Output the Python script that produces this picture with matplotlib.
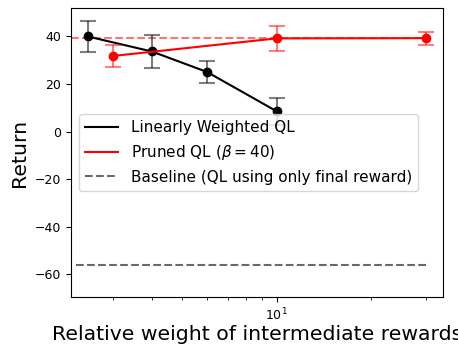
import matplotlib
matplotlib.use("Agg")
import matplotlib.pyplot as plt

# linearly weighted QL
lin_w = [2.5, 4, 6, 10]
lin_ret = [40.0, 33.7, 25.1, 8.6]
lin_err = [6.6, 6.9, 4.7, 5.6]

# pruned QL, beta = 40
pr_w = [3, 10, 30]
pr_ret = [31.8, 39.2, 39.3]
pr_err = [4.6, 5.3, 2.7]

pruned_ref = 39.5
baseline = -56.0

fig = plt.figure(figsize=(4.58, 3.45), dpi=100)
ax = fig.add_axes([0.155, 0.139, 0.812, 0.838])

ax.axhline(pruned_ref, xmax=0.957, color="red", ls="--", alpha=0.55, lw=1.5)

ax.errorbar(lin_w, lin_ret, yerr=lin_err, fmt="none", ecolor="black",
            alpha=0.5, capsize=6, elinewidth=1.5, capthick=1.5)
ax.plot(lin_w, lin_ret, "-", color="black", lw=1.5, label="Linearly Weighted QL")
ax.plot(lin_w, lin_ret, "o", color="black", ms=6)

ax.errorbar(pr_w, pr_ret, yerr=pr_err, fmt="none", ecolor="red",
            alpha=0.5, capsize=6, elinewidth=1.5, capthick=1.5)
ax.plot(pr_w, pr_ret, "-", color="red", lw=1.5, label=r"Pruned QL ($\beta = 40$)")
ax.plot(pr_w, pr_ret, "o", color="red", ms=6)

ax.set_xscale("log")
ax.axhline(baseline, xmin=0.014, xmax=0.957, color="dimgray", ls="--",
           lw=1.5, label="Baseline (QL using only final reward)")

ax.set_ylim(-69.5, 52)
ax.tick_params(labelsize=9)
ax.set_xlabel("Relative weight of intermediate rewards", fontsize=14.7, labelpad=1)
ax.set_ylabel("Return", fontsize=14.7)
ax.legend(loc="center left", fontsize=11, handlelength=2.2)

fig.savefig("out.png", dpi=100)
